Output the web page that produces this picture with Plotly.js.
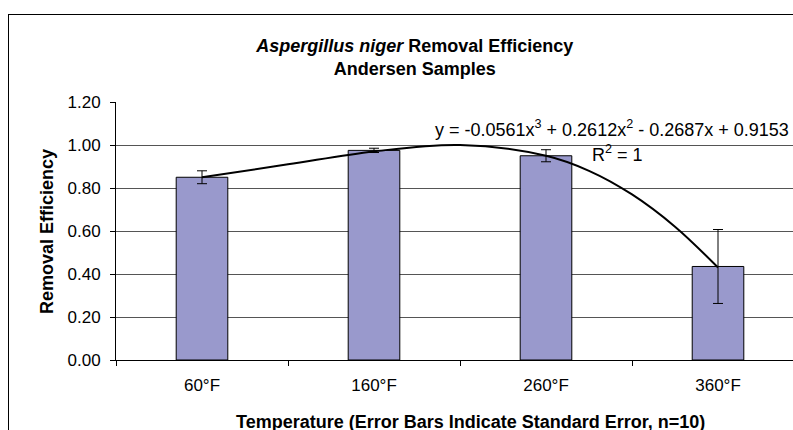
<!DOCTYPE html>
<html>
<head>
<meta charset="utf-8">
<script src="https://cdn.plot.ly/plotly-3.0.1.min.js"></script>
<style>
  html, body { margin: 0; padding: 0; background: #fff; overflow: hidden; }
  #frame { position: absolute; left: 8px; top: 14px; width: 900px; height: 500px; border: 1px solid #000; box-sizing: border-box; }
  #chart { position: absolute; left: 0; top: 0; width: 793px; height: 430px; }
</style>
</head>
<body>
<div id="frame"></div>
<div id="chart"></div>
<script>
// Data
const categories = ["60°F", "160°F", "260°F", "360°F"];
const categoryPos = [1, 2, 3, 4];
const efficiency = [0.85, 0.975, 0.95, 0.435];
const stdError = [0.03, 0.01, 0.028, 0.172];
// Polynomial trendline, values
const trendX = [1, 1.5, 2, 2.5, 3, 3.25, 3.5, 3.75, 4];
const trendY = [0.85, 0.91, 0.97, 1.00, 0.95, 0.88, 0.77, 0.62, 0.43];
const equationText = "y = -0.0561x<sup>3</sup> + 0.2612x<sup>2</sup> - 0.2687x + 0.9153";
const r2Text = "R<sup>2</sup> = 1";

const FONT = "Liberation Sans, Arial, sans-serif";

const bars = {
  type: "bar",
  x: categoryPos,
  y: efficiency,
  width: 0.3,
  marker: { color: "#9999cc", line: { color: "#000", width: 1 } },
  error_y: { type: "data", array: stdError, visible: true, color: "#000", thickness: 1, width: 5 },
  hoverinfo: "skip",
  showlegend: false
};

const trend = {
  type: "scatter",
  mode: "lines",
  x: trendX,
  y: trendY,
  line: { color: "#000", width: 2, shape: "spline", smoothing: 1 },
  hoverinfo: "skip",
  showlegend: false
};

const layout = {
  width: 793,
  height: 430,
  margin: { l: 116, r: 0, t: 102, b: 70, pad: 0 },
  paper_bgcolor: "rgba(0,0,0,0)",
  plot_bgcolor: "rgba(0,0,0,0)",
  font: { family: FONT, size: 17, color: "#000" },
  title: {
    text: "<b><i>Aspergillus niger</i> Removal Efficiency<br>Andersen Samples</b>",
    x: 0.523, xref: "container", xanchor: "center",
    y: 0.879, yref: "container", yanchor: "middle",
    font: { family: FONT, size: 18, color: "#000" }
  },
  xaxis: {
    range: [0.5, 4.436],
    tickmode: "array",
    tickvals: categoryPos,
    ticktext: categories,
    ticks: "",
    ticklabelstandoff: 10,
    showgrid: false,
    zeroline: false,
    showline: true,
    linecolor: "#000",
    linewidth: 1,
    tickfont: { family: FONT, size: 17, color: "#000" },
    minor: { tickmode: "linear", tick0: 0.5, dtick: 1, ticks: "outside", ticklen: 5, tickcolor: "#000", showgrid: false },
    fixedrange: true
  },
  yaxis: {
    range: [0, 1.2],
    dtick: 0.2,
    tick0: 0,
    tickformat: ".2f",
    ticks: "outside",
    ticklen: 5,
    tickcolor: "#000",
    ticklabelstandoff: 6,
    showgrid: true,
    gridcolor: "#555",
    gridwidth: 1,
    zeroline: false,
    showline: true,
    linecolor: "#000",
    linewidth: 1,
    tickfont: { family: FONT, size: 17, color: "#000" },
    fixedrange: true
  },
  annotations: [
    {
      text: "<b>Removal Efficiency</b>", textangle: -90,
      xref: "paper", yref: "paper", x: -0.102, y: 0.5,
      xanchor: "center", yanchor: "middle", showarrow: false,
      font: { family: FONT, size: 18, color: "#000" }
    },
    {
      text: "<b>Temperature (Error Bars Indicate Standard Error, n=10)</b>",
      xref: "paper", yref: "paper", x: 0.523, y: -0.24,
      xanchor: "center", yanchor: "middle", showarrow: false,
      font: { family: FONT, size: 18, color: "#000" }
    },
    {
      text: equationText,
      xref: "x", yref: "y", x: 2.343, y: 1.075,
      xanchor: "left", yanchor: "middle", showarrow: false,
      font: { family: FONT, size: 18, color: "#000" }
    },
    {
      text: r2Text,
      xref: "x", yref: "y", x: 3.256, y: 0.96,
      xanchor: "left", yanchor: "middle", showarrow: false,
      font: { family: FONT, size: 18, color: "#000" }
    }
  ]
};

Plotly.newPlot("chart", [bars, trend], layout, { displayModeBar: false, staticPlot: true });
</script>
</body>
</html>
